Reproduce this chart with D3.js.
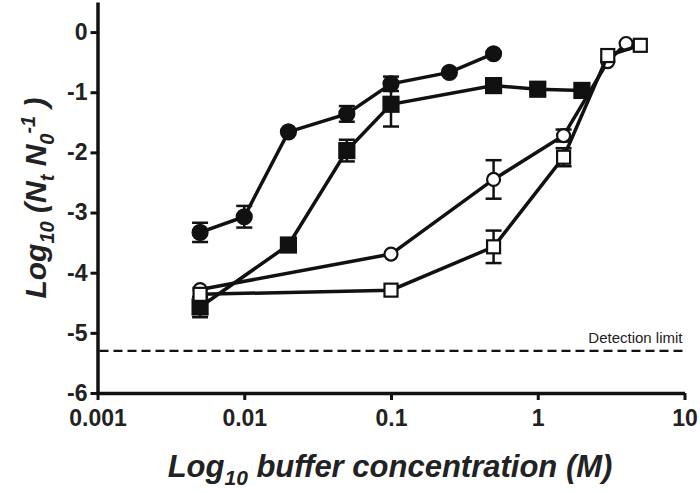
<!DOCTYPE html>
<html><head><meta charset="utf-8">
<script src="https://cdn.jsdelivr.net/npm/d3@7"></script>
<style>body{margin:0;background:#fff}svg{display:block}</style>
</head><body>
<svg id="c" width="700" height="493"></svg>
<script>
const xTicks = [0.001, 0.01, 0.1, 1, 10];
const xTickLabels = ["0.001", "0.01", "0.1", "1", "10"];
const yTicks = [0, -1, -2, -3, -4, -5, -6];
const detectionLimit = -5.3;

const filledCircleX = [0.005, 0.01, 0.02, 0.05, 0.1, 0.25, 0.5];
const filledCircleY = [-3.33, -3.07, -1.66, -1.36, -0.86, -0.67, -0.36];
const filledCircleErr = [0.16, 0.18, 0, 0.13, 0.12, 0, 0];

const filledSquareX = [0.005, 0.02, 0.05, 0.1, 0.5, 1, 2];
const filledSquareY = [-4.57, -3.54, -1.97, -1.2, -0.89, -0.95, -0.97];
const filledSquareErr = [0.17, 0, 0.18, 0.37, 0, 0, 0];

const openCircleX = [0.005, 0.1, 0.5, 1.5, 3, 4];
const openCircleY = [-4.28, -3.69, -2.45, -1.72, -0.49, -0.19];
const openCircleErr = [0, 0, 0.32, 0.1, 0, 0];

const openSquareX = [0.005, 0.1, 0.5, 1.5, 3, 5];
const openSquareY = [-4.36, -4.29, -3.57, -2.08, -0.39, -0.22];
const openSquareErr = [0, 0, 0.27, 0.15, 0, 0];

const FONT = "Liberation Sans, Arial, sans-serif";
const svg = d3.select("#c");
const x = d3.scaleLog().domain([0.001, 10]).range([97.5, 684.5]);
const y = d3.scaleLinear().domain([-6, 0.5]).range([393, 2]);

// axes
const xAxis = d3.axisBottom(x).tickValues(xTicks).tickFormat((d,i)=>xTickLabels[i]).tickSize(7).tickSizeOuter(0);
const gx = svg.append("g").attr("transform","translate(0,393)").call(xAxis);
gx.select(".domain").attr("stroke","#111").attr("stroke-width",3.5);
gx.selectAll(".tick line").attr("stroke","#111").attr("stroke-width",3);
gx.selectAll(".tick text").attr("font-family",FONT).attr("font-weight","bold").attr("font-size","23px").attr("fill","#222").attr("y",16).attr("dy","0.74em");

const yAxis = d3.axisLeft(y).tickValues(yTicks).tickFormat(d=>String(d)).tickSize(7).tickSizeOuter(0);
const gy = svg.append("g").attr("transform","translate(97.5,0)").call(yAxis);
gy.select(".domain").attr("stroke","#111").attr("stroke-width",3.5);
gy.selectAll(".tick line").attr("stroke","#111").attr("stroke-width",3);
gy.selectAll(".tick text").attr("font-family",FONT).attr("font-weight","bold").attr("font-size","23px").attr("fill","#222").attr("x",-10).attr("dy","0.32em");

// detection limit
svg.append("line").attr("x1",x(0.001)+2).attr("x2",x(10)).attr("y1",y(detectionLimit)).attr("y2",y(detectionLimit))
  .attr("stroke","#111").attr("stroke-width",2.2).attr("stroke-dasharray","9,5");
svg.append("text").attr("x",x(10)-2).attr("y",y(detectionLimit)-8).attr("text-anchor","end")
  .attr("font-family",FONT).attr("font-size","15px").attr("fill","#222").text("Detection limit");

// axis labels
const xl = svg.append("text").attr("x",390).attr("y",477).attr("text-anchor","middle")
  .attr("font-family",FONT).attr("font-weight","bold").attr("font-style","italic")
  .attr("font-size","31px").attr("fill","#222");
xl.append("tspan").text("Log");
xl.append("tspan").attr("font-size","21px").attr("dy",8).text("10");
xl.append("tspan").attr("dy",-8).text(" buffer concentration (M)");

const yl = svg.append("text").attr("transform","translate(46,198) rotate(-90)").attr("text-anchor","middle")
  .attr("font-family",FONT).attr("font-weight","bold").attr("font-style","italic")
  .attr("font-size","30px").attr("fill","#222");
yl.append("tspan").text("Log");
yl.append("tspan").attr("font-size","20px").attr("dy",8).text("10");
yl.append("tspan").attr("dy",-8).text(" (N");
yl.append("tspan").attr("font-size","20px").attr("dy",8).text("t");
yl.append("tspan").attr("dy",-8).text(" N");
yl.append("tspan").attr("font-size","20px").attr("dy",8).text("0");
yl.append("tspan").attr("font-size","20px").attr("dy",-19).text("-1");
yl.append("tspan").attr("dy",11).text(" )");

const series = [
  {xs: filledCircleX, ys: filledCircleY, es: filledCircleErr, shape: "circle", fill: "#111"},
  {xs: filledSquareX, ys: filledSquareY, es: filledSquareErr, shape: "square", fill: "#111"},
  {xs: openCircleX, ys: openCircleY, es: openCircleErr, shape: "circle", fill: "#fff"},
  {xs: openSquareX, ys: openSquareY, es: openSquareErr, shape: "square", fill: "#fff"}
];

const line = d3.line().x(d=>x(d.x)).y(d=>y(d.y));
series.forEach(s => {
  const pts = s.xs.map((v,i)=>({x:v, y:s.ys[i], e:s.es[i]}));
  const g = svg.append("g");
  g.append("path").datum(pts).attr("d",line).attr("fill","none").attr("stroke","#111").attr("stroke-width",3.5);
  pts.filter(d=>d.e>0).forEach(d=>{
    const cx = x(d.x);
    g.append("line").attr("x1",cx).attr("x2",cx).attr("y1",y(d.y+d.e)).attr("y2",y(d.y-d.e)).attr("stroke","#111").attr("stroke-width",2.5);
    [d.y+d.e, d.y-d.e].forEach(v=>{
      g.append("line").attr("x1",cx-8).attr("x2",cx+8).attr("y1",y(v)).attr("y2",y(v)).attr("stroke","#111").attr("stroke-width",2.5);
    });
  });
  pts.forEach(d=>{
    if (s.shape==="circle") {
      g.append("circle").attr("cx",x(d.x)).attr("cy",y(d.y)).attr("r", s.fill==="#fff"?6.5:7.5)
        .attr("fill",s.fill).attr("stroke","#111").attr("stroke-width",2.2);
    } else {
      const h = s.fill==="#fff"?6.5:7.5;
      g.append("rect").attr("x",x(d.x)-h).attr("y",y(d.y)-h).attr("width",2*h).attr("height",2*h)
        .attr("fill",s.fill).attr("stroke","#111").attr("stroke-width",2.2);
    }
  });
});
</script>
</body></html>
